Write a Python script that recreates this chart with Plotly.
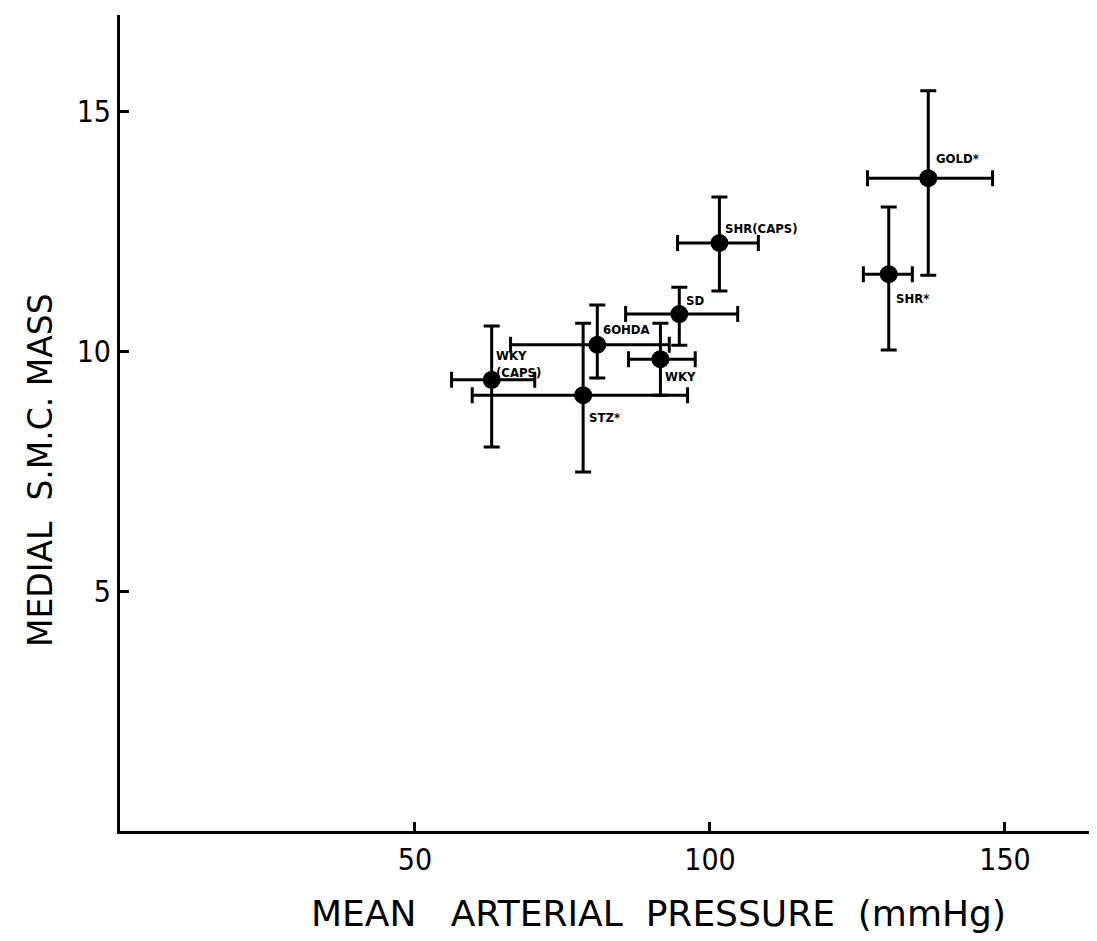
import plotly.graph_objects as go

# Data
groups = ["WKY<br>(CAPS)", "STZ*", "6OHDA", "WKY", "SD", "SHR(CAPS)", "GOLD*", "SHR*"]
map_mmHg = [63.0, 78.5, 80.9, 91.6, 94.8, 101.6, 137.0, 130.3]
smc_mass = [9.40, 9.08, 10.13, 9.83, 10.77, 12.25, 13.60, 11.60]
map_err_minus = [6.8, 18.8, 14.7, 5.4, 9.1, 7.1, 10.3, 4.3]
map_err_plus = [7.3, 17.7, 12.2, 5.9, 9.9, 6.6, 10.9, 4.0]
smc_err_minus = [1.40, 1.60, 0.69, 0.75, 0.65, 1.00, 2.02, 1.58]
smc_err_plus = [1.12, 1.50, 0.83, 0.75, 0.56, 0.96, 1.82, 1.40]

x_ticks = [50, 100, 150]
y_ticks = [5, 10, 15]

# label offsets in pixels (style only)
label_dx = [2, 4, 4, 3, 5, 4, 6, 5]
label_dy = [16, -22, 15, -17, 14, 15, 20, -24]

fig = go.Figure()
fig.add_trace(go.Scatter(
    x=map_mmHg, y=smc_mass, mode="markers",
    marker=dict(color="black", size=18),
    error_x=dict(type="data", symmetric=False, array=map_err_plus,
                 arrayminus=map_err_minus, color="black", thickness=3, width=8),
    error_y=dict(type="data", symmetric=False, array=smc_err_plus,
                 arrayminus=smc_err_minus, color="black", thickness=3, width=8),
    showlegend=False, hoverinfo="skip",
))

for g, x, y, dx, dy in zip(groups, map_mmHg, smc_mass, label_dx, label_dy):
    fig.add_annotation(x=x, y=y, xref="x", yref="y", text="<b>" + g + "</b>",
                       showarrow=False, xanchor="left", yanchor="middle", align="left",
                       xshift=dx, yshift=dy,
                       font=dict(family="DejaVu Sans Condensed", size=13, color="black"))

fig.add_annotation(xref="paper", yref="paper", x=(40 - 120) / 977, y=(831 - 470) / 816,
                   text="MEDIAL  S.M.C. MASS", textangle=-90, showarrow=False,
                   xanchor="center", yanchor="middle",
                   font=dict(family="DejaVu Sans", size=33, color="black"))
fig.add_annotation(xref="paper", yref="paper", x=(658 - 120) / 977, y=(831 - 913) / 816,
                   text="MEAN   ARTERIAL  PRESSURE  (mmHg)", showarrow=False,
                   xanchor="center", yanchor="middle",
                   font=dict(family="DejaVu Sans", size=36, color="black"))

tick_font = dict(family="DejaVu Sans Condensed", size=30, color="black")
fig.update_xaxes(range=[0, 165.6], tickvals=x_ticks, ticks="inside", ticklen=9, tickwidth=2.5,
                 tickcolor="black", showline=True, linecolor="black", linewidth=3,
                 showgrid=False, zeroline=False, tickfont=tick_font)
fig.update_yaxes(range=[0, 17], tickvals=y_ticks, ticks="inside", ticklen=9, tickwidth=2.5,
                 tickcolor="black", showline=True, linecolor="black", linewidth=3,
                 showgrid=False, zeroline=False, tickfont=tick_font)

# page body has an 8px margin; size/margins compensate so the plot area sits where the reference has it
fig.update_layout(width=1089, height=933, margin=dict(l=112, r=0, t=7, b=110),
                  paper_bgcolor="white", plot_bgcolor="white")

fig.write_html("out.html")
